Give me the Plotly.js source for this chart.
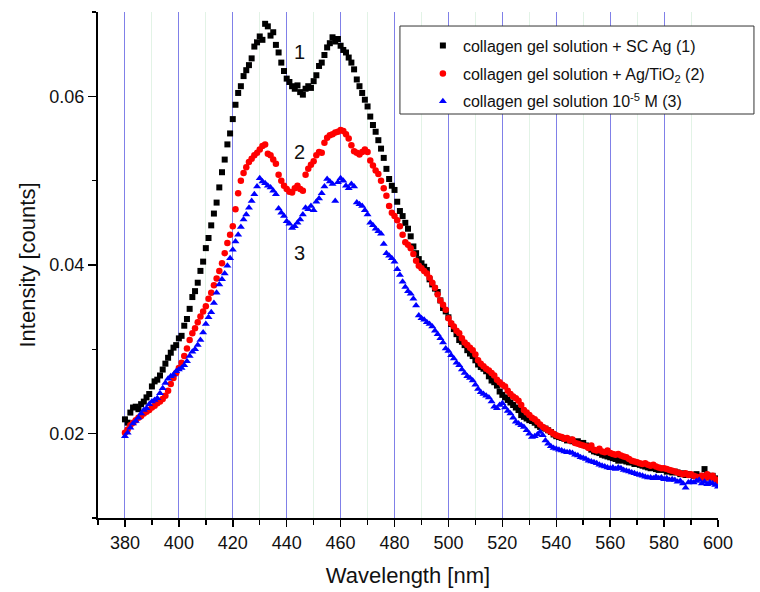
<!DOCTYPE html>
<html>
<head>
<meta charset="utf-8">
<script src="https://cdn.plot.ly/plotly-3.0.1.min.js"></script>
<style>html,body{margin:0;padding:0;background:#fff;}#chart{width:760px;height:592px;}</style>
</head>
<body>
<div id="chart"></div>
<script>
const wavelength = [
380,381,382,383,384,385,386,387,388,389,
390,391,392,393,394,395,396,397,398,399,
400,401,402,403,404,405,406,407,408,409,
410,411,412,413,414,415,416,417,418,419,
420,421,422,423,424,425,426,427,428,429,
430,431,432,433,434,435,436,437,438,439,
440,441,442,443,444,445,446,447,448,449,
450,451,452,453,454,455,456,457,458,459,
460,461,462,463,464,465,466,467,468,469,
470,471,472,473,474,475,476,477,478,479,
480,481,482,483,484,485,486,487,488,489,
490,491,492,493,494,495,496,497,498,499,
500,501,502,503,504,505,506,507,508,509,
510,511,512,513,514,515,516,517,518,519,
520,521,522,523,524,525,526,527,528,529,
530,531,532,533,534,535,536,537,538,539,
540,541,542,543,544,545,546,547,548,549,
550,551,552,553,554,555,556,557,558,559,
560,561,562,563,564,565,566,567,568,569,
570,571,572,573,574,575,576,577,578,579,
580,581,582,583,584,585,586,587,588,589,
590,591,592,593,594,595,596,597,598,599,
600];

const scAg = [
.0217,.0213,.0225,.0231,.0232,.0229,.0235,.0238,.0243,.0247,
.0256,.0262,.0264,.0269,.0276,.0283,.0290,.0296,.0302,.0305,
.0313,.0316,.0328,.0336,.0348,.0362,.0369,.0379,.0393,.0404,
.0420,.0432,.0447,.0461,.0474,.0492,.0510,.0525,.0543,.0556,
.0573,.0590,.0604,.0612,.0624,.0631,.0637,.0645,.0659,.0664,
.0671,.0667,.0686,.0683,.0672,.0676,.0661,.0652,.0640,.0630,
.0621,.0617,.0612,.0609,.0613,.0605,.0602,.0609,.0612,.0610,
.0618,.0625,.0636,.0640,.0649,.0658,.0663,.0670,.0665,.0668,
.0660,.0655,.0652,.0646,.0640,.0632,.0620,.0612,.0604,.0596,
.0588,.0576,.0566,.0558,.0548,.0538,.0527,.0514,.0502,.0494,
.0489,.0475,.0464,.0458,.0450,.0443,.0434,.0422,.0414,.0407,
.0402,.0398,.0394,.0383,.0377,.0372,.0368,.0358,.0349,.0345,
.0338,.0330,.0324,.0318,.0311,.0309,.0305,.0299,.0295,.0292,
.0287,.0282,.0279,.0277,.0274,.0268,.0263,.0261,.0257,.0250,
.0246,.0243,.0240,.0237,.0234,.0231,.0228,.0222,.0220,.0218,
.0216,.0215,.0213,.0210,.0208,.0207,.0206,.0204,.0202,.0199,
.0197,.0196,.0195,.0194,.0192,.0193,.0191,.0190,.0191,.0188,
.0189,.0186,.0184,.0181,.0179,.0178,.0177,.0175,.0174,.0173,
.0172,.0171,.0170,.0168,.0169,.0168,.0167,.0166,.0166,.0164,
.0165,.0163,.0162,.0161,.0160,.0159,.0160,.0158,.0157,.0158,
.0157,.0155,.0156,.0154,.0155,.0154,.0152,.0153,.0151,.0152,
.0151,.0150,.0152,.0149,.0150,.0158,.0151,.0148,.0150,.0146,
.0147];

const agTiO2 = [
.0201,.0205,.0210,.0213,.0216,.0219,.0221,.0224,.0226,.0228,
.0231,.0233,.0236,.0238,.0241,.0245,.0251,.0259,.0266,.0272,
.0278,.0284,.0292,.0301,.0311,.0319,.0325,.0332,.0339,.0345,
.0351,.0360,.0367,.0376,.0384,.0393,.0402,.0414,.0426,.0436,
.0446,.0466,.0485,.0500,.0509,.0516,.0522,.0526,.0530,.0533,
.0537,.0541,.0543,.0532,.0530,.0525,.0520,.0507,.0500,.0494,
.0490,.0487,.0486,.0491,.0494,.0490,.0488,.0507,.0514,.0519,
.0523,.0530,.0534,.0533,.0545,.0551,.0554,.0555,.0557,.0558,
.0560,.0559,.0555,.0550,.0542,.0535,.0533,.0531,.0534,.0537,
.0534,.0524,.0518,.0512,.0508,.0500,.0491,.0482,.0470,.0462,
.0458,.0453,.0446,.0436,.0427,.0424,.0420,.0413,.0405,.0399,
.0396,.0393,.0390,.0385,.0379,.0373,.0365,.0358,.0353,.0347,
.0337,.0331,.0327,.0322,.0319,.0313,.0308,.0305,.0302,.0299,
.0294,.0287,.0283,.0280,.0277,.0275,.0272,.0269,.0264,.0261,
.0258,.0256,.0251,.0247,.0244,.0242,.0239,.0234,.0228,.0225,
.0222,.0219,.0217,.0214,.0211,.0208,.0206,.0204,.0202,.0200,
.0198,.0197,.0196,.0194,.0195,.0192,.0193,.0189,.0188,.0187,
.0186,.0185,.0183,.0186,.0181,.0180,.0182,.0179,.0178,.0180,
.0177,.0176,.0175,.0176,.0174,.0173,.0172,.0170,.0168,.0167,
.0166,.0165,.0164,.0165,.0163,.0162,.0163,.0161,.0160,.0159,
.0159,.0158,.0157,.0156,.0155,.0154,.0153,.0152,.0153,.0151,
.0152,.0150,.0149,.0148,.0150,.0147,.0152,.0148,.0150,.0146,
.0144];

const collagen = [
.0197,.0201,.0207,.0212,.0215,.0219,.0224,.0228,.0230,.0235,
.0238,.0240,.0242,.0248,.0254,.0260,.0265,.0268,.0270,.0274,
.0276,.0278,.0281,.0286,.0292,.0297,.0300,.0305,.0311,.0320,
.0330,.0338,.0344,.0355,.0367,.0377,.0383,.0390,.0399,.0408,
.0418,.0428,.0436,.0445,.0454,.0460,.0468,.0476,.0484,.0493,
.0503,.0499,.0497,.0494,.0492,.0488,.0484,.0467,.0462,.0458,
.0452,.0449,.0444,.0446,.0450,.0454,.0460,.0468,.0466,.0470,
.0465,.0475,.0479,.0485,.0493,.0502,.0499,.0496,.0476,.0498,
.0503,.0500,.0494,.0491,.0496,.0493,.0474,.0472,.0470,.0465,
.0460,.0450,.0447,.0443,.0440,.0437,.0425,.0414,.0411,.0408,
.0404,.0395,.0388,.0380,.0374,.0369,.0366,.0360,.0352,.0340,
.0337,.0335,.0332,.0330,.0327,.0322,.0318,.0313,.0308,.0301,
.0298,.0293,.0289,.0284,.0281,.0276,.0272,.0268,.0266,.0263,
.0258,.0253,.0249,.0247,.0245,.0243,.0238,.0232,.0230,.0234,
.0236,.0231,.0227,.0224,.0219,.0214,.0212,.0210,.0208,.0204,
.0200,.0196,.0197,.0199,.0202,.0198,.0192,.0188,.0185,.0183,
.0182,.0181,.0180,.0179,.0178,.0178,.0177,.0175,.0174,.0172,
.0171,.0170,.0168,.0167,.0166,.0165,.0163,.0162,.0161,.0160,
.0159,.0160,.0158,.0160,.0159,.0157,.0156,.0155,.0154,.0153,
.0152,.0151,.0150,.0149,.0148,.0148,.0147,.0149,.0147,.0148,
.0146,.0147,.0145,.0146,.0145,.0143,.0144,.0141,.0136,.0142,
.0143,.0142,.0144,.0145,.0141,.0143,.0140,.0142,.0141,.0139,
.0137];

const seriesNames = [
  'collagen gel solution + SC Ag (1)',
  'collagen gel solution + Ag/TiO<sub>2</sub> (2)',
  'collagen gel solution 10<sup>-5</sup> M (3)'
];
const curveLabels = ['1', '2', '3'];
const curveLabelX = [444.7, 444.7, 444.7];
const curveLabelY = [0.0652, 0.0534, 0.0414];

const FONT = 'Liberation Sans, Arial, Helvetica, sans-serif';

const traces = [
  {x: wavelength, y: scAg, name: seriesNames[0], legendgroup: 'a', mode: 'markers', type: 'scatter',
   marker: {symbol: 'square', size: 6, color: '#000000'}},
  {x: wavelength, y: agTiO2, name: seriesNames[1], legendgroup: 'b', mode: 'markers', type: 'scatter',
   marker: {symbol: 'circle', size: 6.5, color: '#ff0000'}},
  {x: wavelength, y: collagen, name: seriesNames[2], legendgroup: 'c', mode: 'markers', type: 'scatter',
   marker: {symbol: 'triangle-up', size: 7, color: '#0000ff'}}
];

const annotations = curveLabels.map((t, i) => ({
  x: curveLabelX[i], y: curveLabelY[i], xref: 'x', yref: 'y', text: t, showarrow: false,
  font: {family: FONT, size: 20, color: '#111'}
}));

const layout = {
  width: 760, height: 592,
  margin: {l: 98, r: 42, t: 12, b: 74, pad: 0},
  paper_bgcolor: '#ffffff', plot_bgcolor: '#ffffff',
  font: {family: FONT, color: '#111'},
  showlegend: true,
  legend: {x: 0.524, y: 0.967, xanchor: 'left', yanchor: 'top', bgcolor: 'rgba(0,0,0,0)',
           borderwidth: 0, font: {family: FONT, size: 16, color: '#111'}, tracegroupgap: 4},
  xaxis: {
    range: [370, 600], tick0: 380, dtick: 20, showline: true, linecolor: '#000', linewidth: 2,
    ticks: 'outside', ticklen: 7, tickwidth: 1.5, tickcolor: '#000',
    showgrid: true, gridcolor: 'rgb(128,128,232)', gridwidth: 1, zeroline: false,
    tickfont: {family: FONT, size: 18, color: '#111'},
    minor: {dtick: 10, tick0: 380, ticks: 'outside', ticklen: 5, tickwidth: 1.5, tickcolor: '#000',
            showgrid: true, gridcolor: 'rgb(226,243,230)', gridwidth: 1},
    title: {text: 'Wavelength [nm]', font: {family: FONT, size: 22, color: '#111'}, standoff: 16}
  },
  yaxis: {
    range: [0.01, 0.07], tick0: 0, dtick: 0.02, tickformat: '.2f', showline: true, linecolor: '#000', linewidth: 2,
    ticks: 'outside', ticklen: 8, tickwidth: 1.5, tickcolor: '#000', showgrid: false, zeroline: false,
    tickfont: {family: FONT, size: 18, color: '#111'},
    minor: {dtick: 0.01, ticks: 'outside', ticklen: 4, tickwidth: 1.5, tickcolor: '#000', showgrid: false},
    title: {text: 'Intensity [counts]', font: {family: FONT, size: 22, color: '#111'}, standoff: 8}
  },
  shapes: [{type: 'rect', xref: 'paper', yref: 'paper', x0: 0.487, x1: 1.058, y0: 0.7984, y1: 0.9723,
            line: {color: '#333', width: 1}, fillcolor: '#ffffff', layer: 'above'}],
  annotations: annotations
};

Plotly.newPlot('chart', traces, layout, {displayModeBar: false, staticPlot: true});
</script>
</body>
</html>
